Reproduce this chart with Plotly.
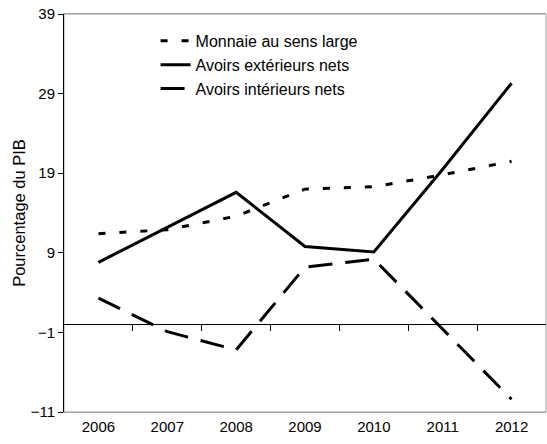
import plotly.graph_objects as go

years = ["2006", "2007", "2008", "2009", "2010", "2011", "2012"]
monnaie = [11.4, 11.9, 13.6, 17.0, 17.3, 18.8, 20.5]
avoirs_ext = [7.8, 12.2, 16.6, 9.8, 9.1, 19.5, 30.3]
avoirs_int = [3.3, -0.9, -3.2, 7.2, 8.2, -0.6, -9.4]

y_ticks = [-11, -1, 9, 19, 29, 39]

FONT = "Liberation Sans, Arial, sans-serif"

fig = go.Figure()

fig.add_trace(go.Scatter(
    x=years, y=monnaie, mode="lines", name="Monnaie au sens large",
    line=dict(color="black", width=3, dash="7px,14px"),
))
fig.add_trace(go.Scatter(
    x=years, y=avoirs_ext, mode="lines", name="Avoirs extérieurs nets",
    line=dict(color="black", width=3),
))
fig.add_trace(go.Scatter(
    x=years, y=avoirs_int, mode="lines", name="Avoirs intérieurs nets",
    line=dict(color="black", width=3, dash="24px,13px"),
))

# invisible trace so the zero-crossing category axis gets drawn
fig.add_trace(go.Scatter(
    x=[0], y=[0], xaxis="x2", mode="markers", marker=dict(opacity=0),
    showlegend=False, hoverinfo="skip",
))

fig.update_layout(
    width=547, height=444,
    margin=dict(l=64, r=1, t=14, b=32),
    paper_bgcolor="white", plot_bgcolor="white",
    font=dict(family=FONT, size=15, color="black"),
    showlegend=True,
    legend=dict(
        x=0.19, y=0.975, xanchor="left", yanchor="top",
        bgcolor="rgba(0,0,0,0)", font=dict(size=16),
        tracegroupgap=0,
    ),
    xaxis=dict(
        type="category", range=[-0.5, 6.5],
        showline=True, linecolor="#a0a0a0", linewidth=1, mirror=True,
        showgrid=False, zeroline=False,
        ticks="outside", ticklen=1, tickcolor="rgba(0,0,0,0)",
    ),
    xaxis2=dict(
        overlaying="x", anchor="free", position=(0 - y_ticks[0]) / (y_ticks[-1] - y_ticks[0]),
        range=[-0.5, 6.5], showline=True, linecolor="black", linewidth=1,
        tickmode="array", tickvals=[0.5, 1.5, 2.5, 3.5, 4.5, 5.5],
        ticks="outside", ticklen=6, tickcolor="black",
        showticklabels=False, showgrid=False, zeroline=False,
    ),
    yaxis=dict(
        range=[-11, 39], tickmode="array", tickvals=y_ticks,
        showline=True, linecolor="black", linewidth=1,
        ticks="outside", ticklen=5, tickcolor="black",
        showgrid=False, zeroline=False,
        title=dict(text="Pourcentage du PIB", font=dict(size=16.5), standoff=0),
    ),
    shapes=[dict(
        type="rect", xref="paper", yref="paper", x0=0, x1=1, y0=0, y1=1,
        line=dict(color="#a0a0a0", width=1), layer="below",
    )],
)

fig.write_html(
    "out.html",
    config={"displayModeBar": False},
    post_script="document.body.style.margin='0';",
)
